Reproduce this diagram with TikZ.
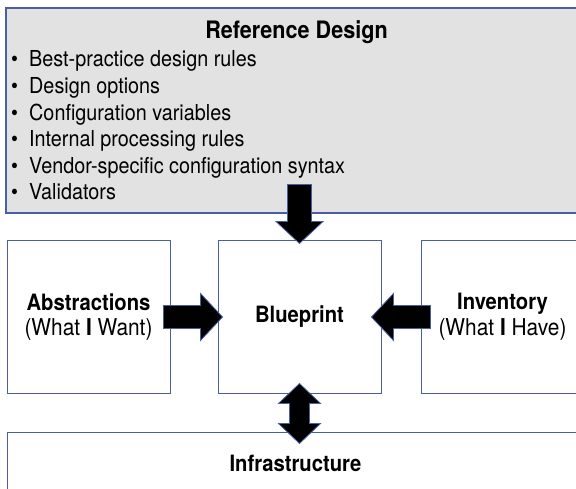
\documentclass[tikz,border=0pt]{standalone}
\usepackage{fontspec}
\setmainfont{TeX Gyre Heros}[FakeStretch=0.9]
\definecolor{boxblue}{HTML}{4A5EA2}
\definecolor{boxgrey}{HTML}{E2E2E2}
\begin{document}
\begin{tikzpicture}
[
 x=1pt, y=-1pt,
 inner sep=0pt,
 BOX/.style={rectangle, draw=boxblue, fill=white, line width=1pt, minimum width=163pt, minimum height=152pt, align=center, font=\fontsize{23.2}{25.5}\selectfont},
 REFBOX/.style={rectangle, draw=boxblue, fill=boxgrey, line width=1.3pt, minimum width=581pt, minimum height=205pt},
 INFRA/.style={BOX, minimum width=577pt, minimum height=63pt},
 TITLE/.style={anchor=base, font=\bfseries\fontsize{24}{28}\selectfont},
 ITEM/.style={anchor=base west, font=\fontsize{22}{26}\selectfont},
 BLOCKARROW/.style={draw=boxblue, fill=black, line width=0.8pt, line join=miter},
 ]
\useasboundingbox (0,0) rectangle (576,489);
%
\node [REFBOX]  (ref)    at (296.5,110.5)  {};
\node [TITLE]   (title)  at (296.5,39)     {Reference Design};
\foreach \txt [count=\i] in {Best-practice design rules, Design options, Configuration variables, Internal processing rules, Vendor-specific configuration syntax, Validators}
   {
     \node [ITEM]  (item\i)  at (11, 40.4+26.6*\i)  {\makebox[18pt][l]{\textbullet}\txt};
   }
%
\node [BOX]     (abs)    at (88.5,317)     {\textbf{\fontsize{22.5}{25.5}\selectfont Abstractions}\\(What \textbf{I} Want)};
\node [BOX]     (bp)     at (299.5,317)    {\textbf{\fontsize{22.5}{25.5}\selectfont Blueprint}};
\node [BOX]     (inv)    at (502.5,317)    {\textbf{\fontsize{22.5}{25.5}\selectfont Inventory}\\(What \textbf{I} Have)};
\node [INFRA]   (infra)  at (295.5,463.5)  {\textbf{\fontsize{22.5}{25.5}\selectfont Infrastructure}};
%
% reference design -> blueprint
\draw [BLOCKARROW]  ([yshift=-3pt]bp.north) -- ++(-23.5,-22) -- ++(11.5,0) -- ++(0,-37)
   -- ++(24,0) -- ++(0,37) -- ++(11.5,0) -- cycle;
% abstractions -> blueprint
\draw [BLOCKARROW]  ([xshift=5pt]bp.west) -- ++(-22,-23.5) -- ++(0,12) -- ++(-37,0)
   -- ++(0,23) -- ++(37,0) -- ++(0,12) -- cycle;
% inventory -> blueprint
\draw [BLOCKARROW]  ([xshift=-10pt]bp.east) -- ++(22,-23.5) -- ++(0,12) -- ++(37,0)
   -- ++(0,23) -- ++(-37,0) -- ++(0,12) -- cycle;
% blueprint <-> infrastructure
\draw [BLOCKARROW]  ([yshift=10pt]bp.south) -- ++(21,20) -- ++(-11,0) -- ++(0,20)
   -- ++(11,0) -- ++(-21,20) -- ++(-21,-20) -- ++(11,0) -- ++(0,-20) -- ++(-11,0) -- cycle;
\end{tikzpicture}
\end{document}
